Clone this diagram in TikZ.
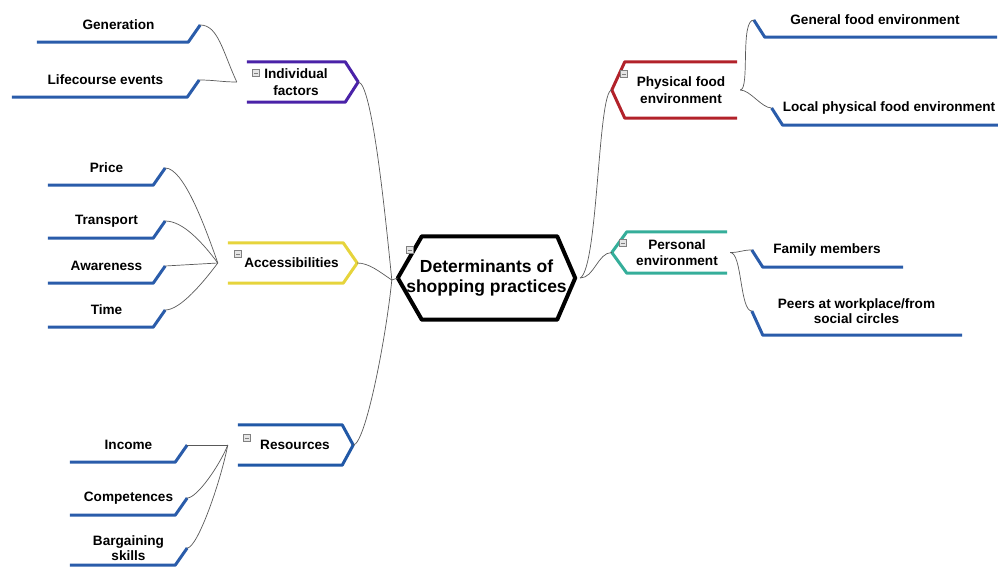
\documentclass[tikz,border=0pt]{standalone}
\usepackage{fontspec}
\setmainfont{Liberation Sans}
\usetikzlibrary{calc}

\definecolor{leafblue}{HTML}{2A5CAA}
\definecolor{indpurple}{HTML}{4A22A8}
\definecolor{accyellow}{HTML}{E6D43C}
\definecolor{resblue}{HTML}{2158A6}
\definecolor{physred}{HTML}{B2222A}
\definecolor{persteal}{HTML}{35AE9A}

\tikzset{
  leaf/.style={inner sep=0pt, minimum height=34, align=center, font=\bfseries\fontsize{13.6}{15.5}\selectfont},
  cat/.style={inner sep=0pt, minimum height=40, align=center, font=\bfseries\fontsize{13.6}{16.5}\selectfont},
  core/.style={inner sep=0pt, align=center, font=\bfseries\fontsize{17.5}{20.5}\selectfont},
  uline/.style={leafblue, line width=3pt, line join=round},
  catline/.style={#1, line width=3pt, line join=round},
  conn/.style={gray!70!black, line width=0.7pt},
  tog/.style={draw=gray, fill=gray!20, minimum size=7, inner sep=0pt,
    path picture={\draw[gray] ($(path picture bounding box.west)+(1.5,0)$) -- ($(path picture bounding box.east)+(-1.5,0)$);}},
}

\begin{document}
\begin{tikzpicture}[x=1pt, y=-1pt]
\useasboundingbox (0,0) rectangle (998,569);

% centre
\node[core, minimum width=177, minimum height=83] (det) at (486.5,278) {Determinants of\\shopping practices};
\draw[line width=4pt, line join=round] (det.west) -- ($(det.north west)+(24,0)$) -- ($(det.north east)+(-18,0)$)
  -- (det.east) -- ($(det.south east)+(-18,0)$) -- ($(det.south west)+(24,0)$) -- cycle;
\coordinate (det-l) at ($(det.west)+(-6,2)$);
\coordinate (det-r) at ($(det.east)+(5,0)$);

% left categories
\node[cat, minimum width=98] (ind) at (296,82) {Individual\\factors};
\node[cat, minimum width=115] (acc) at (285.5,263) {\hspace*{12pt}Accessibilities};
\node[cat, minimum width=104] (res) at (290,445) {\hspace*{10pt}Resources};
\foreach \n/\c/\t in {ind/indpurple/13, acc/accyellow/14, res/resblue/11} {
  \coordinate (\n-tip) at ($(\n.east)+(\t,0)$);
  \coordinate (\n-hub) at ($(\n.west)+(-10,0)$);
  \draw[catline=\c] (\n.north west) -- (\n.north east) -- (\n-tip) -- (\n.south east) -- (\n.south west);
}

% right categories
\node[cat, minimum width=112, minimum height=56] (phys) at (681,90) {Physical food\\environment};
\node[cat, minimum width=100, minimum height=41] (pers) at (677,252.5) {Personal\\environment};
\foreach \n/\c/\t in {phys/physred/13, pers/persteal/15} {
  \coordinate (\n-tip) at ($(\n.west)+(-\t,0)$);
  \coordinate (\n-hub) at ($(\n.east)+(3,0)$);
  \draw[catline=\c] (\n.north east) -- (\n.north west) -- (\n-tip) -- (\n.south west) -- (\n.south east);
}

% left leaves
\node[leaf, minimum width=139] (gen) at (118.5,25) {Generation};
\node[leaf, minimum width=163] (life) at (105.5,80) {Lifecourse events};
\node[leaf, minimum width=93] (price) at (106.5,168) {Price};
\node[leaf, minimum width=93] (trans) at (106.5,221) {Transport};
\node[leaf, minimum width=93] (aware) at (106.5,266) {Awareness};
\node[leaf, minimum width=93] (time) at (106.5,310) {Time};
\node[leaf, minimum width=93] (inc) at (128.5,445) {Income};
\node[leaf, minimum width=93] (comp) at (128.5,498) {Competences};
\node[leaf, minimum width=93] (barg) at (128.5,548) {Bargaining\\skills};
\foreach \n in {gen,life,price,trans,aware,time,inc,comp,barg} {
  \coordinate (\n-end) at ($(\n.east)+(12,0)$);
  \draw[uline] ($(\n.south west)+(-12,0)$) -- (\n.south east) -- (\n-end);
}

% right leaves
\node[leaf, minimum width=220] (genfood) at (875,20) {General food environment};
\node[leaf, minimum width=212] (locfood) at (889,108) {Local physical food environment};
\node[leaf, minimum width=128] (fam) at (827,250) {Family members};
\node[leaf, minimum width=187, minimum height=48] (peer) at (856.5,311) {Peers at workplace/from\\social circles};
\foreach \n in {genfood,locfood,fam,peer} {
  \coordinate (\n-end) at ($(\n.west)+(-11,0)$);
  \draw[uline] (\n-end) -- (\n.south west) -- ($(\n.south east)+(12,0)$);
}

% connectors to the centre
\draw[conn] (ind-tip) .. controls +(14,0) and +(-6,-60) .. (det-l);
\draw[conn] (acc-tip) .. controls +(12,0) and +(-12,-8) .. (det-l);
\draw[conn] (res-tip) .. controls +(12,0) and +(-6,60) .. (det-l);
\draw[conn] (det-l) -- (det.west);
\draw[conn] (det-r) .. controls +(18,-10) and +(-14,0) .. (phys-tip);
\draw[conn] (det-r) .. controls +(14,0) and +(-14,0) .. (pers-tip);

% connectors to the leaves
\draw[conn] (gen-end) .. controls +(18,0) and +(-14,-30) .. (ind-hub);
\draw[conn] (life-end) .. controls +(15,0) and +(-15,0) .. (ind-hub);
\draw[conn] (price-end) .. controls +(18,0) and +(-14,-40) .. (acc-hub);
\draw[conn] (trans-end) .. controls +(18,0) and +(-15,-20) .. (acc-hub);
\draw[conn] (aware-end) -- (acc-hub);
\draw[conn] (time-end) .. controls +(15,0) and +(-15,20) .. (acc-hub);
\draw[conn] (inc-end) -- (res-hub);
\draw[conn] (comp-end) .. controls +(10,0) and +(-8,20) .. (res-hub);
\draw[conn] (barg-end) .. controls +(10,0) and +(-8,40) .. (res-hub);
\draw[conn] (phys-hub) .. controls +(10,0) and +(-14,0) .. (genfood-end);
\draw[conn] (phys-hub) .. controls +(10,0) and +(-10,0) .. (locfood-end);
\draw[conn] (pers-hub) .. controls +(10,0) and +(-10,0) .. (fam-end);
\draw[conn] (pers-hub) .. controls +(12,0) and +(-12,0) .. (peer-end);

% collapse marks
\node[tog] (det-tog) at (410,250) {};
\node[tog] (ind-tog) at (256,73) {};
\node[tog] (acc-tog) at (238,254) {};
\node[tog] (res-tog) at (247,438) {};
\node[tog] (phys-tog) at (624,74) {};
\node[tog] (pers-tog) at (623,243) {};
\end{tikzpicture}
\end{document}
